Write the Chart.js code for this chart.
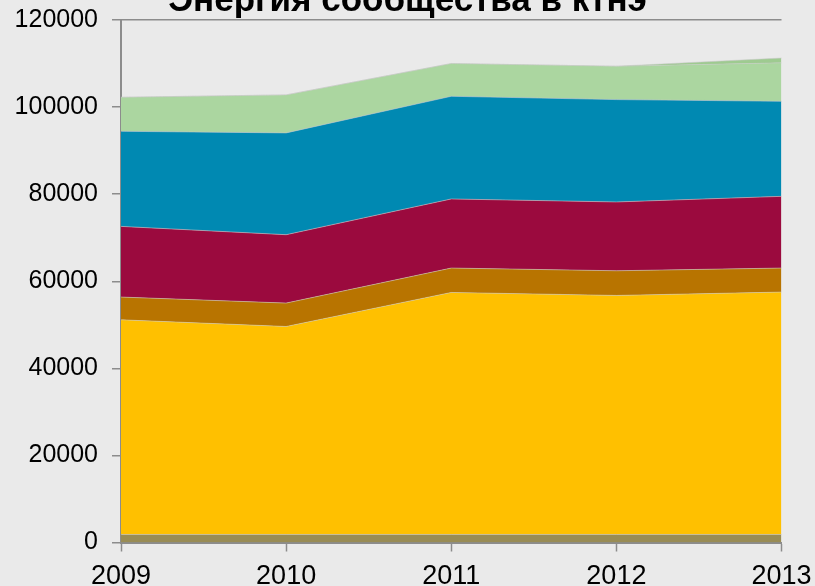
<!DOCTYPE html>
<html>
<head>
<meta charset="utf-8">
<script src="https://cdn.jsdelivr.net/npm/chart.js@4"></script>
<style>
  html, body { margin: 0; padding: 0; background: #eaeaea; overflow: hidden; }
  #wrap { position: absolute; left: 0; top: -12px; width: 815px; height: 598px; }
</style>
</head>
<body>
<div id="wrap"><canvas id="c" width="815" height="598"></canvas></div>
<script>
const years = ['2009', '2010', '2011', '2012', '2013'];
const seriesBase    = [1850, 1850, 1850, 1850, 1850];
const seriesYellow  = [49300, 47760, 55580, 54890, 55670];
const seriesOrange  = [5220, 5380, 5600, 5670, 5510];
const seriesCrimson = [16230, 15700, 15870, 15800, 16470];
const seriesBlue    = [21840, 23380, 23580, 23510, 21830];
const seriesGreen   = [7810, 8730, 7520, 7660, 8830];
const seriesTop     = [0, 0, 0, 0, 1100];
const yTicks = [0, 20000, 40000, 60000, 80000, 100000, 120000];
const titleText = 'Энергия сообщества в ктнэ';

const colors = ['#998c55', '#ffc000', '#b87400', '#9b0a3e', '#0089b2', '#abd6a0', '#9ecb90'];
const allSeries = [seriesBase, seriesYellow, seriesOrange, seriesCrimson, seriesBlue, seriesGreen, seriesTop];
const names = ['Ряд 1', 'Ряд 2', 'Ряд 3', 'Ряд 4', 'Ряд 5', 'Ряд 6', 'Ряд 7'];

const datasets = allSeries.map((d, i) => ({
  label: names[i],
  data: d,
  backgroundColor: colors[i],
  borderColor: 'rgba(200,200,200,0.55)',
  borderWidth: 1,
  pointRadius: 0,
  pointHoverRadius: 0,
  tension: 0,
  fill: i === 0 ? 'origin' : '-1'
}));

const FONT = "'Liberation Sans', Arial, sans-serif";

new Chart(document.getElementById('c'), {
  type: 'line',
  data: { labels: years, datasets },
  options: {
    responsive: false,
    animation: false,
    devicePixelRatio: 1,
    layout: { padding: { left: 0, right: 0, top: 0, bottom: 0 } },
    plugins: {
      legend: { display: false },
      tooltip: { enabled: false },
      title: {
        display: true,
        text: titleText,
        color: '#000',
        font: { family: FONT, size: 35, weight: 'bold', lineHeight: 0.743 },
        padding: { top: 0, bottom: 6 }
      }
    },
    scales: {
      x: {
        offset: false,
        grid: {
          drawOnChartArea: false,
          drawTicks: true,
          tickLength: 9,
          tickColor: '#8c8c8c',
          tickWidth: 1.5
        },
        border: { color: '#8c8c8c', width: 2 },
        ticks: { color: '#000', font: { family: FONT, size: 27 }, padding: 9, maxRotation: 0, autoSkip: false },
        afterFit: (s) => { s.height = 43.5; s.paddingRight = 33.5; s.paddingLeft = 0; }
      },
      y: {
        stacked: true,
        min: 0,
        max: 120000,
        afterBuildTicks: (s) => { s.ticks = yTicks.map(v => ({ value: v })); },
        grid: {
          color: (ctx) => (ctx.tick && ctx.tick.value === 120000) ? '#8c8c8c' : 'rgba(0,0,0,0)',
          lineWidth: 1.5,
          drawTicks: true,
          tickLength: 9,
          tickColor: '#8c8c8c',
          tickWidth: 1.5
        },
        border: { color: '#8c8c8c', width: 2 },
        ticks: {
          color: '#000',
          font: { family: FONT, size: 25 },
          padding: 14,
          callback: (v) => String(v)
        },
        afterFit: (s) => { s.width = 121; }
      }
    }
  }
});
</script>
</body>
</html>
